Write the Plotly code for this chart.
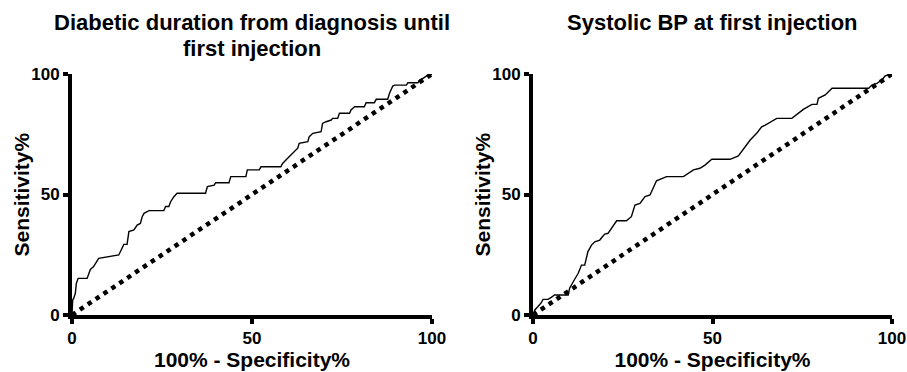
import plotly.graph_objects as go

# ---- data ----
dur_fpr = [0, 0.19, 0.46, 0.93, 1.2, 1.7, 4.2, 4.6, 5.1, 6.0, 6.5, 7.4, 13.0, 13.9, 14.4, 15.3, 15.8,
           17.2, 18.1, 19.0, 19.5, 20.0, 21.4, 25.5, 26.0, 26.9, 27.4, 28.3, 29.2, 37.1, 37.6, 39.5,
           39.9, 43.6, 44.1, 48.3, 48.7, 52.0, 52.5, 58.0, 58.5, 59.9, 61.3, 62.7, 63.1, 65.5, 65.9,
           66.9, 69.2, 69.6, 70.6, 72.0, 72.4, 73.8, 74.3, 77.1, 77.5, 78.5, 81.2, 81.7, 84.0, 84.5,
           87.7, 88.2, 89.1, 89.6, 92.9, 93.3, 96.1, 96.6, 97.5, 98.4, 98.9, 100]
dur_tpr = [0, 6.2, 6.9, 9.0, 13.1, 15.2, 15.2, 16.6, 18.9, 20.1, 21.4, 23.5, 24.9, 27.7, 29.3, 29.3, 34.6,
           35.3, 37.3, 38.0, 40.8, 42.2, 43.3, 43.3, 45.0, 45.0, 47.0, 49.1, 50.5, 50.5, 53.3, 53.9,
           54.9, 54.9, 57.4, 57.4, 60.2, 60.2, 61.5, 61.5, 62.9, 65.0, 67.1, 69.2, 71.2, 71.9, 74.0,
           75.4, 76.1, 79.5, 80.2, 80.9, 81.6, 81.6, 83.7, 83.7, 85.1, 86.4, 86.4, 88.1, 88.1, 89.5,
           89.5, 92.0, 95.0, 95.4, 95.4, 96.4, 96.4, 97.5, 98.2, 98.9, 99.6, 100]

bp_fpr = [0, 0.5, 1.4, 2.3, 2.8, 4.2, 5.1, 6.0, 9.8, 10.2, 11.2, 12.6, 13.5, 14.4, 15.3, 16.3, 17.2,
          18.6, 19.5, 20.0, 20.9, 21.9, 23.3, 26.0, 27.4, 28.4, 29.8, 31.2, 32.6, 34.4, 37.2, 41.9,
          44.7, 46.5, 47.9, 49.8, 54.9, 57.2, 59.1, 60.5, 62.3, 63.7, 64.7, 67.9, 72.1, 75.3, 77.7,
          79.1, 79.5, 81.4, 83.3, 93.5, 94.4, 95.8, 97.2, 98.1, 100]
bp_tpr = [0, 2.1, 3.5, 5.1, 6.5, 6.5, 7.3, 8.3, 8.3, 11.1, 13.8, 17.3, 20.7, 20.7, 26.3, 29.0, 30.4,
          31.1, 32.8, 33.6, 33.9, 36.0, 39.1, 39.1, 40.8, 45.6, 46.3, 49.1, 49.8, 55.7, 57.4, 57.4,
          60.2, 60.9, 62.2, 64.6, 64.6, 66.0, 69.6, 72.6, 75.4, 78.1, 78.8, 81.6, 81.6, 85.3, 87.4,
          87.4, 89.9, 91.3, 94.1, 94.1, 95.4, 96.1, 97.5, 99.2, 100]

ref_line = [0, 100]
tick_vals = [0, 50, 100]
title_lines = [["Diabetic duration from diagnosis until", "first injection"],
               ["Systolic BP at first injection"]]
x_title = "100% - Specificity%"
y_title = "Sensitivity%"

W, H = 907, 372
FONT = "Liberation Sans, Arial, sans-serif"

fig = go.Figure()
for i, (fx, ty) in enumerate([(dur_fpr, dur_tpr), (bp_fpr, bp_tpr)]):
    xa = "x" if i == 0 else "x2"
    ya = "y" if i == 0 else "y2"
    fig.add_trace(go.Scatter(x=ref_line, y=ref_line, mode="lines", xaxis=xa, yaxis=ya,
                             line=dict(color="black", width=4.5, dash="4.5px,5px"),
                             hoverinfo="skip", showlegend=False))
    fig.add_trace(go.Scatter(x=fx, y=ty, mode="lines", xaxis=xa, yaxis=ya,
                             line=dict(color="black", width=1.4),
                             showlegend=False))

doms_x = [[72 / W, 432 / W], [533 / W, 892 / W]]
dom_y = [(H - 315) / H, (H - 74) / H]

axis_common = dict(range=[0, 100], tickvals=tick_vals, showgrid=False, zeroline=False,
                   showline=True, linecolor="black", linewidth=4, automargin=False,
                   ticks="outside", ticklen=5, tickwidth=4, tickcolor="black",
                   tickfont=dict(family=FONT, size=17, color="black", weight="bold"))

layout = dict(width=W, height=H, margin=dict(l=0, r=0, t=0, b=0, autoexpand=False),
              paper_bgcolor="white", plot_bgcolor="white", showlegend=False)
for i in range(2):
    sx = "" if i == 0 else "2"
    layout["xaxis" + sx] = dict(axis_common, domain=doms_x[i], anchor="y" + sx,
                                title=dict(text=x_title, standoff=4,
                                           font=dict(family=FONT, size=21, color="black", weight="bold")))
    layout["yaxis" + sx] = dict(axis_common, domain=dom_y, anchor="x" + sx)
fig.update_layout(**layout)

line_centers = [23, 48]
y_title_x = [21, 482]
for i in range(2):
    for j, txt in enumerate(title_lines[i]):
        fig.add_annotation(text="<b>" + txt + "</b>", xref="paper", yref="paper",
                           x=sum(doms_x[i]) / 2, y=(H - line_centers[j]) / H,
                           xanchor="center", yanchor="middle",
                           showarrow=False, font=dict(family=FONT, size=22, color="black"))
    fig.add_annotation(text="<b>" + y_title + "</b>", xref="paper", yref="paper",
                       x=y_title_x[i] / W, y=sum(dom_y) / 2, textangle=-90,
                       xanchor="center", yanchor="middle",
                       showarrow=False, font=dict(family=FONT, size=21, color="black"))

fig.write_html("out.html", config={"displayModeBar": False},
               post_script="document.body.style.margin='0';")
